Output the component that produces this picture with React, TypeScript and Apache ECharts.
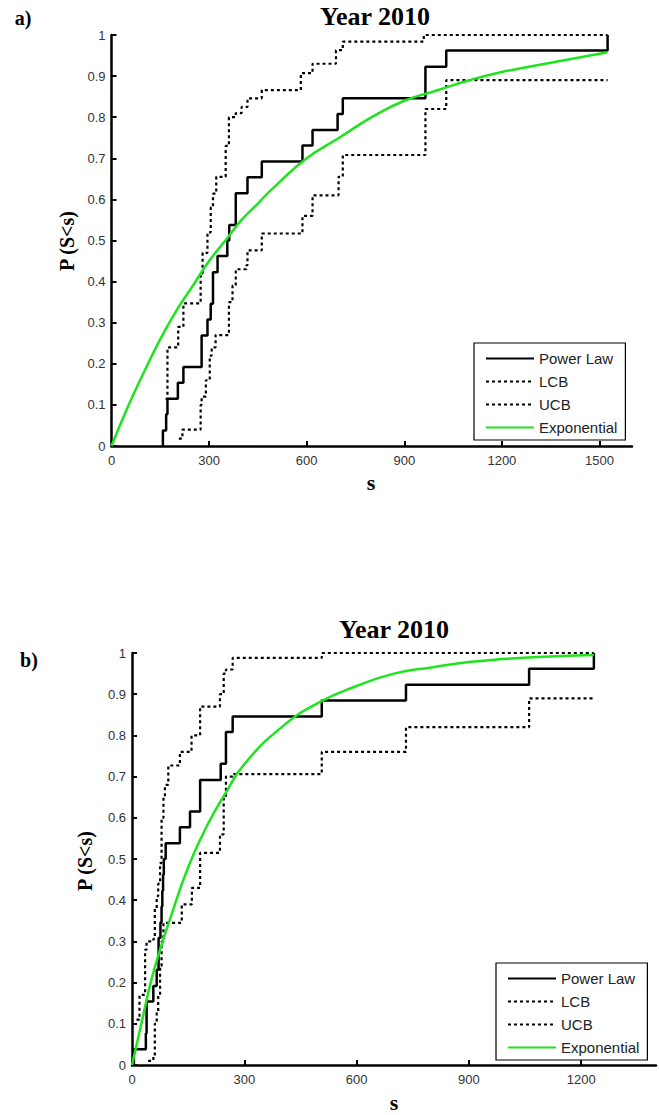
import React, { useEffect, useRef } from "react";
import * as echarts from "echarts";

const seriesNames = ["Power Law", "LCB", "UCB", "Exponential"];
const yTicks = [0, 0.1, 0.2, 0.3, 0.4, 0.5, 0.6, 0.7, 0.8, 0.9, 1];
const xTicksA = [0, 300, 600, 900, 1200, 1500];
const xTicksB = [0, 300, 600, 900, 1200];

// ---------- a) ----------
const aPowX = [158, 158, 168, 172, 204, 221, 277, 295, 305, 312, 326, 356, 362, 382, 418, 462, 587, 618, 695, 711, 965, 1029, 1525];
const aPowY = [0, 0.038, 0.077, 0.115, 0.154, 0.192, 0.269, 0.308, 0.346, 0.423, 0.462, 0.5, 0.538, 0.615, 0.654, 0.692, 0.731, 0.769, 0.808, 0.846, 0.923, 0.962, 1.0];

const aLcbX = [207, 218, 274, 277, 290, 302, 308, 320, 361, 372, 382, 415, 418, 462, 587, 618, 698, 711, 965, 1029, 1525];
const aLcbY = [0.018, 0.04, 0.1, 0.12, 0.16, 0.22, 0.24, 0.27, 0.35, 0.39, 0.43, 0.44, 0.476, 0.517, 0.56, 0.61, 0.655, 0.708, 0.82, 0.89, 0.89];

const aUcbX = [166, 172, 205, 221, 274, 280, 295, 305, 312, 322, 351, 361, 382, 400, 418, 462, 582, 618, 690, 711, 960, 1525];
const aUcbY = [0.115, 0.24, 0.29, 0.347, 0.42, 0.47, 0.52, 0.58, 0.614, 0.655, 0.73, 0.8, 0.81, 0.825, 0.846, 0.866, 0.907, 0.93, 0.963, 0.984, 1.0, 1.0];

const aExpX = [0, 50, 100, 150, 200, 250, 300, 350, 400, 450, 500, 600, 700, 800, 900, 1000, 1100, 1200, 1300, 1400, 1525];
const aExpY = [0, 0.095, 0.18, 0.26, 0.33, 0.39, 0.45, 0.5, 0.55, 0.59, 0.63, 0.7, 0.75, 0.8, 0.84, 0.865, 0.89, 0.91, 0.925, 0.94, 0.958];

// ---------- b) ----------
const bPowX = [5, 5, 37, 39, 57, 66, 71, 76, 79, 81, 83, 85, 90, 128, 155, 182, 237, 251, 269, 507, 732, 1061, 1234];
const bPowY = [0, 0.038, 0.077, 0.154, 0.192, 0.231, 0.308, 0.346, 0.385, 0.423, 0.462, 0.5, 0.538, 0.577, 0.615, 0.692, 0.731, 0.808, 0.846, 0.885, 0.923, 0.962, 1.0];

const bLcbX = [43, 57, 61, 66, 70, 75, 79, 84, 133, 160, 182, 235, 245, 251, 269, 507, 732, 1061, 1234];
const bLcbY = [0.01, 0.02, 0.1, 0.13, 0.17, 0.24, 0.3, 0.345, 0.39, 0.43, 0.515, 0.56, 0.65, 0.7, 0.706, 0.76, 0.82, 0.89, 0.89];

const bUcbX = [12, 20, 35, 39, 57, 61, 66, 70, 75, 79, 84, 88, 97, 128, 159, 182, 235, 245, 251, 269, 507, 1234];
const bUcbY = [0.11, 0.17, 0.28, 0.3, 0.306, 0.38, 0.41, 0.44, 0.49, 0.6, 0.65, 0.68, 0.727, 0.76, 0.8, 0.87, 0.9, 0.95, 0.96, 0.988, 1.0, 1.0];

const bExpX = [0, 25, 50, 75, 100, 150, 200, 250, 300, 400, 500, 600, 700, 800, 900, 1000, 1100, 1234];
const bExpY = [0, 0.1, 0.2, 0.28, 0.35, 0.48, 0.58, 0.66, 0.73, 0.82, 0.88, 0.92, 0.95, 0.965, 0.978, 0.986, 0.991, 0.995];

const pairs = (xs: number[], ys: number[]) => xs.map((x, i) => [x, ys[i]]);

const SERIF = '"Liberation Serif", "Times New Roman", serif';
const SANS = '"Liberation Sans", Arial, sans-serif';
const GREEN = "#1ee41e";

function makeSeries(gi: number, pow: number[][], lcb: number[][], ucb: number[][], ex: number[][]) {
  const base = { type: "line", xAxisIndex: gi, yAxisIndex: gi, symbol: "none", showSymbol: false, silent: true };
  return [
    { ...base, name: seriesNames[0], data: pow, step: "end", lineStyle: { color: "#000", width: 2.5 }, itemStyle: { color: "#000" } },
    { ...base, name: seriesNames[1], data: lcb, step: "end", lineStyle: { color: "#000", width: 2.2, type: [3, 3] }, itemStyle: { color: "#000" } },
    { ...base, name: seriesNames[2], data: ucb, step: "end", lineStyle: { color: "#000", width: 2.2, type: [3, 3] }, itemStyle: { color: "#000" } },
    { ...base, name: seriesNames[3], data: ex, smooth: true, lineStyle: { color: GREEN, width: 2.5 }, itemStyle: { color: GREEN } },
  ];
}

function xAxisCfg(gi: number, max: number, ticks: number[]) {
  return {
    gridIndex: gi, type: "value", min: 0, max,
    axisLine: { show: true, onZero: false, lineStyle: { color: "#000", width: 2.5 } },
    axisTick: { show: true, inside: true, length: 5, customValues: ticks, lineStyle: { color: "#000", width: 2 } },
    axisLabel: {
      customValues: ticks, color: "#333", fontSize: 13, fontFamily: SANS, margin: 8,
      formatter: (v: number) => String(v),
    },
    splitLine: { show: false },
  };
}

function yAxisCfg(gi: number) {
  return {
    gridIndex: gi, type: "value", min: 0, max: 1, interval: 0.1,
    axisLine: { show: true, onZero: false, lineStyle: { color: "#000", width: 2.5 } },
    axisTick: { show: true, inside: true, length: 5, customValues: yTicks, lineStyle: { color: "#000", width: 2 } },
    axisLabel: {
      customValues: yTicks, color: "#333", fontSize: 13, fontFamily: SANS, margin: 6,
      formatter: (v: number) => String(Math.round(v * 10) / 10),
    },
    splitLine: { show: false },
  };
}

function legendCfg(left: number, top: number) {
  return {
    data: seriesNames, orient: "vertical", left, top,
    itemWidth: 48, itemHeight: 14, itemGap: 8,
    padding: [8, 8, 5, 11],
    borderColor: "#000", borderWidth: 1.2, backgroundColor: "#fff",
    selectedMode: false,
    itemStyle: { color: "rgba(0,0,0,0)", borderColor: "rgba(0,0,0,0)", borderWidth: 0, opacity: 0 },
    textStyle: { fontSize: 15, color: "#222", fontFamily: SANS },
  };
}

function txt(x: number, y: number, text: string, font: string, rotation = 0) {
  return {
    type: "text", x, y, rotation, silent: true,
    style: { text, font, fill: "#000", align: "center", verticalAlign: "middle", textAlign: "center", textVerticalAlign: "middle" },
  };
}

export default function App() {
  const ref = useRef<HTMLDivElement>(null);
  useEffect(() => {
    if (!ref.current) return;
    const chart = echarts.init(ref.current, null, { renderer: "svg" });
    chart.setOption({
      animation: false,
      backgroundColor: "#fff",
      grid: [
        { left: 111.5, top: 35, width: 520.5, height: 411, outerBoundsMode: "none" },
        { left: 132, top: 653, width: 524, height: 412, outerBoundsMode: "none" },
      ],
      xAxis: [xAxisCfg(0, 1600, xTicksA), xAxisCfg(1, 1400, xTicksB)],
      yAxis: [yAxisCfg(0), yAxisCfg(1)],
      legend: [legendCfg(474, 343), legendCfg(496, 963)],
      series: [
        ...makeSeries(0, pairs(aPowX, aPowY), pairs(aLcbX, aLcbY), pairs(aUcbX, aUcbY), pairs(aExpX, aExpY)),
        ...makeSeries(1, pairs(bPowX, bPowY), pairs(bLcbX, bLcbY), pairs(bUcbX, bUcbY), pairs(bExpX, bExpY)),
      ],
      graphic: [
        txt(23, 18, "a)", `bold 20px ${SERIF}`),
        txt(375, 16, "Year 2010", `bold 26px ${SERIF}`),
        txt(67, 241, "P (S<s)", `bold 20px ${SERIF}`, Math.PI / 2),
        txt(371, 482, "s", `bold 22px ${SERIF}`),
        txt(29, 660, "b)", `bold 20px ${SERIF}`),
        txt(394, 629, "Year 2010", `bold 26px ${SERIF}`),
        txt(85, 861, "P (S<s)", `bold 20px ${SERIF}`, Math.PI / 2),
        txt(394, 1102, "s", `bold 22px ${SERIF}`),
      ],
    });
    return () => chart.dispose();
  }, []);
  return <div ref={ref} style={{ position: "absolute", left: 0, top: 0, width: 659, height: 1115 }} />;
}
